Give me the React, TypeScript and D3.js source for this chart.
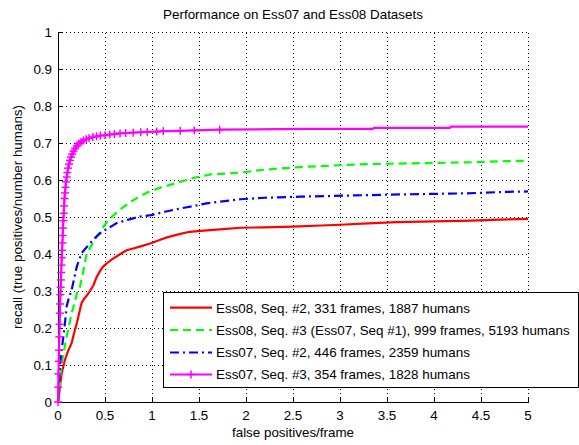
import React from "react";
import * as d3 from "d3";

const title = "Performance on Ess07 and Ess08 Datasets";
const xLabel = "false positives/frame";
const yLabel = "recall (true positives/number humans)";
const xTicks = [0, 0.5, 1, 1.5, 2, 2.5, 3, 3.5, 4, 4.5, 5];
const yTicks = [0, 0.1, 0.2, 0.3, 0.4, 0.5, 0.6, 0.7, 0.8, 0.9, 1];

const seriesNames = [
  "Ess08, Seq. #2, 331 frames, 1887 humans",
  "Ess08, Seq. #3 (Ess07, Seq #1), 999 frames, 5193 humans",
  "Ess07, Seq. #2, 446 frames, 2359 humans",
  "Ess07, Seq. #3, 354 frames, 1828 humans",
];

const redData: [number, number][] = [
  [0, 0], [0.02, 0.04], [0.039, 0.077], [0.074, 0.114], [0.11, 0.14], [0.145, 0.159],
  [0.17, 0.185], [0.2, 0.213], [0.225, 0.24], [0.25, 0.267], [0.28, 0.28], [0.305, 0.287],
  [0.34, 0.3], [0.376, 0.315], [0.41, 0.337], [0.45, 0.355], [0.48, 0.366], [0.53, 0.377],
  [0.57, 0.385], [0.65, 0.398], [0.73, 0.41], [0.8, 0.415], [0.87, 0.42], [0.99, 0.429],
  [1.08, 0.438], [1.16, 0.445], [1.28, 0.453], [1.4, 0.46], [1.55, 0.463], [1.69, 0.466],
  [1.94, 0.471], [2.2, 0.472], [2.5, 0.474], [2.8, 0.477], [3.0, 0.479], [3.3, 0.483],
  [3.6, 0.486], [4.0, 0.488], [4.4, 0.49], [4.7, 0.493], [5, 0.495],
];

const greenData: [number, number][] = [
  [0, 0], [0.02, 0.05], [0.039, 0.104], [0.065, 0.14], [0.092, 0.177], [0.12, 0.21],
  [0.145, 0.24], [0.18, 0.27], [0.206, 0.3], [0.234, 0.312], [0.27, 0.355], [0.305, 0.4],
  [0.37, 0.43], [0.447, 0.46], [0.5, 0.48], [0.57, 0.5], [0.66, 0.52], [0.766, 0.54],
  [0.87, 0.556], [0.98, 0.57], [1.1, 0.58], [1.3, 0.595], [1.45, 0.606], [1.62, 0.615],
  [1.94, 0.62], [2.2, 0.628], [2.58, 0.635], [3.0, 0.64], [3.28, 0.643], [3.99, 0.646],
  [4.4, 0.648], [4.77, 0.651], [5, 0.652],
];

const blueData: [number, number][] = [
  [0, 0], [0.01, 0.05], [0.02, 0.1], [0.039, 0.14], [0.057, 0.177], [0.074, 0.213],
  [0.092, 0.258], [0.11, 0.276], [0.145, 0.303], [0.2, 0.366], [0.25, 0.402],
  [0.34, 0.429], [0.4, 0.445], [0.465, 0.46], [0.55, 0.472], [0.62, 0.483], [0.75, 0.493],
  [0.87, 0.501], [0.99, 0.505], [1.15, 0.515], [1.3, 0.523], [1.45, 0.53], [1.58, 0.537],
  [1.94, 0.548], [2.2, 0.552], [2.58, 0.555], [3.1, 0.558], [3.64, 0.561], [4.35, 0.564],
  [4.77, 0.568], [5, 0.569],
];

const magentaData: [number, number][] = [
  [0, 0], [0.003, 0.04], [0.005, 0.076], [0.008, 0.11], [0.011, 0.14], [0.014, 0.176],
  [0.017, 0.21], [0.02, 0.24], [0.022, 0.265], [0.025, 0.29], [0.028, 0.31], [0.031, 0.33],
  [0.034, 0.35], [0.037, 0.37], [0.04, 0.39], [0.043, 0.41], [0.047, 0.43], [0.05, 0.45],
  [0.053, 0.47], [0.057, 0.49], [0.061, 0.51], [0.065, 0.53], [0.069, 0.55], [0.074, 0.565],
  [0.08, 0.58], [0.086, 0.595], [0.093, 0.608], [0.1, 0.62], [0.108, 0.632], [0.117, 0.643],
  [0.127, 0.653], [0.138, 0.662], [0.15, 0.67], [0.165, 0.678], [0.18, 0.685], [0.2, 0.692],
  [0.22, 0.698], [0.245, 0.703], [0.27, 0.707], [0.3, 0.71], [0.33, 0.713], [0.37, 0.716],
  [0.41, 0.718], [0.45, 0.72], [0.5, 0.721], [0.55, 0.723], [0.6, 0.724], [0.66, 0.726],
  [0.72, 0.727], [0.8, 0.728], [0.88, 0.729], [0.95, 0.73], [1.05, 0.731], [1.12, 0.732],
  [1.3, 0.733], [1.45, 0.734], [1.72, 0.736], [2.6, 0.738], [3.35, 0.738], [3.36, 0.741],
  [4.17, 0.741], [4.18, 0.744], [5, 0.744],
];
const magentaMarkerMaxX = 1.8;

const colors = ["#ff0000", "#00ff00", "#0000ff", "#ff00ff"];
const dashes = ["none", "8,5", "9,4,2,4", "none"];

const W = 579;
const H = 445;
const left = 58;
const right = 528;
const top = 32;
const bottom = 402;
const FONT = "'Liberation Sans', Arial, Helvetica, sans-serif";
const FS = 13.4;

export default function App() {
  const x = d3.scaleLinear().domain([0, 5]).range([left, right]);
  const y = d3.scaleLinear().domain([0, 1]).range([bottom, top]);
  const line = d3
    .line<[number, number]>()
    .x((d) => x(d[0]))
    .y((d) => y(d[1]));
  const all = [redData, greenData, blueData, magentaData];
  const fmt = (v: number) => (v === 0 || v === 1 || v === 2 || v === 3 || v === 4 || v === 5 ? String(v) : String(v));

  const legX = 163;
  const legY = 292;
  const legW = 415;
  const legH = 95;
  const rowYs = [307.7, 330, 352.5, 374.5];

  return (
    <svg
      width={W}
      height={H}
      style={{ position: "absolute", left: 0, top: 0, background: "#fff" }}
      fontFamily={FONT}
    >
      <rect x={0} y={0} width={W} height={H} fill="#fff" />
      {/* grid */}
      <g stroke="#000" strokeWidth={1} strokeDasharray="1,3" shapeRendering="crispEdges">
        {xTicks.filter((t) => t > 0).map((t) => (
          <line key={"gx" + t} x1={Math.round(x(t)) + 0.5} x2={Math.round(x(t)) + 0.5} y1={bottom} y2={top} />
        ))}
        {yTicks.filter((t) => t > 0).map((t) => (
          <line key={"gy" + t} x1={left} x2={right} y1={Math.round(y(t)) + 0.5} y2={Math.round(y(t)) + 0.5} />
        ))}
      </g>
      {/* axes */}
      <g stroke="#000" strokeWidth={1} shapeRendering="crispEdges">
        <line x1={left + 0.5} x2={left + 0.5} y1={top} y2={bottom + 0.5} />
        <line x1={left} x2={right + 1} y1={bottom + 0.5} y2={bottom + 0.5} />
        {xTicks.map((t) => (
          <line key={"tx" + t} x1={Math.round(x(t)) + 0.5} x2={Math.round(x(t)) + 0.5} y1={bottom} y2={bottom - 5} />
        ))}
        {yTicks.map((t) => (
          <line key={"ty" + t} x1={left} x2={left + 5} y1={Math.round(y(t)) + 0.5} y2={Math.round(y(t)) + 0.5} />
        ))}
      </g>
      {/* tick labels */}
      <g fontSize={FS} fill="#000">
        {xTicks.map((t) => (
          <text key={"lx" + t} x={x(t)} y={420} textAnchor="middle">
            {fmt(t)}
          </text>
        ))}
        {yTicks.map((t) => (
          <text key={"ly" + t} x={52} y={y(t) + 4.8} textAnchor="end">
            {fmt(t)}
          </text>
        ))}
      </g>
      {/* curves */}
      <g fill="none" strokeWidth={2.2}>
        {all.map((d, i) => (
          <path key={"c" + i} d={line(d) || ""} stroke={colors[i]} strokeDasharray={dashes[i]} />
        ))}
      </g>
      <g stroke={colors[3]} strokeWidth={1.5}>
        {magentaData
          .filter((d) => d[0] <= magentaMarkerMaxX)
          .map((d, i) => (
            <g key={"m" + i}>
              <line x1={x(d[0]) - 4} x2={x(d[0]) + 4} y1={y(d[1])} y2={y(d[1])} />
              <line x1={x(d[0])} x2={x(d[0])} y1={y(d[1]) - 4} y2={y(d[1]) + 4} />
            </g>
          ))}
      </g>
      {/* legend */}
      <rect x={legX + 0.5} y={legY + 0.5} width={legW} height={legH} fill="#fff" stroke="#000" strokeWidth={1} shapeRendering="crispEdges" />
      {seriesNames.map((name, i) => (
        <g key={"lg" + i}>
          <line
            x1={170}
            x2={212}
            y1={rowYs[i]}
            y2={rowYs[i]}
            stroke={colors[i]}
            strokeWidth={2.2}
            strokeDasharray={dashes[i]}
          />
          {i === 3 && (
            <g stroke={colors[3]} strokeWidth={1.5}>
              <line x1={191 - 4} x2={191 + 4} y1={rowYs[i]} y2={rowYs[i]} />
              <line x1={191} x2={191} y1={rowYs[i] - 4} y2={rowYs[i] + 4} />
            </g>
          )}
          <text x={216} y={rowYs[i] + 4.8} fontSize={FS} fill="#000">
            {name}
          </text>
        </g>
      ))}
      {/* titles */}
      <text x={(left + right) / 2} y={18.5} textAnchor="middle" fontSize={FS} fill="#000">
        {title}
      </text>
      <text x={(left + right) / 2} y={437} textAnchor="middle" fontSize={FS} fill="#000">
        {xLabel}
      </text>
      <text
        transform={`translate(22,${(top + bottom) / 2}) rotate(-90)`}
        textAnchor="middle"
        fontSize={FS}
        fill="#000"
      >
        {yLabel}
      </text>
    </svg>
  );
}
